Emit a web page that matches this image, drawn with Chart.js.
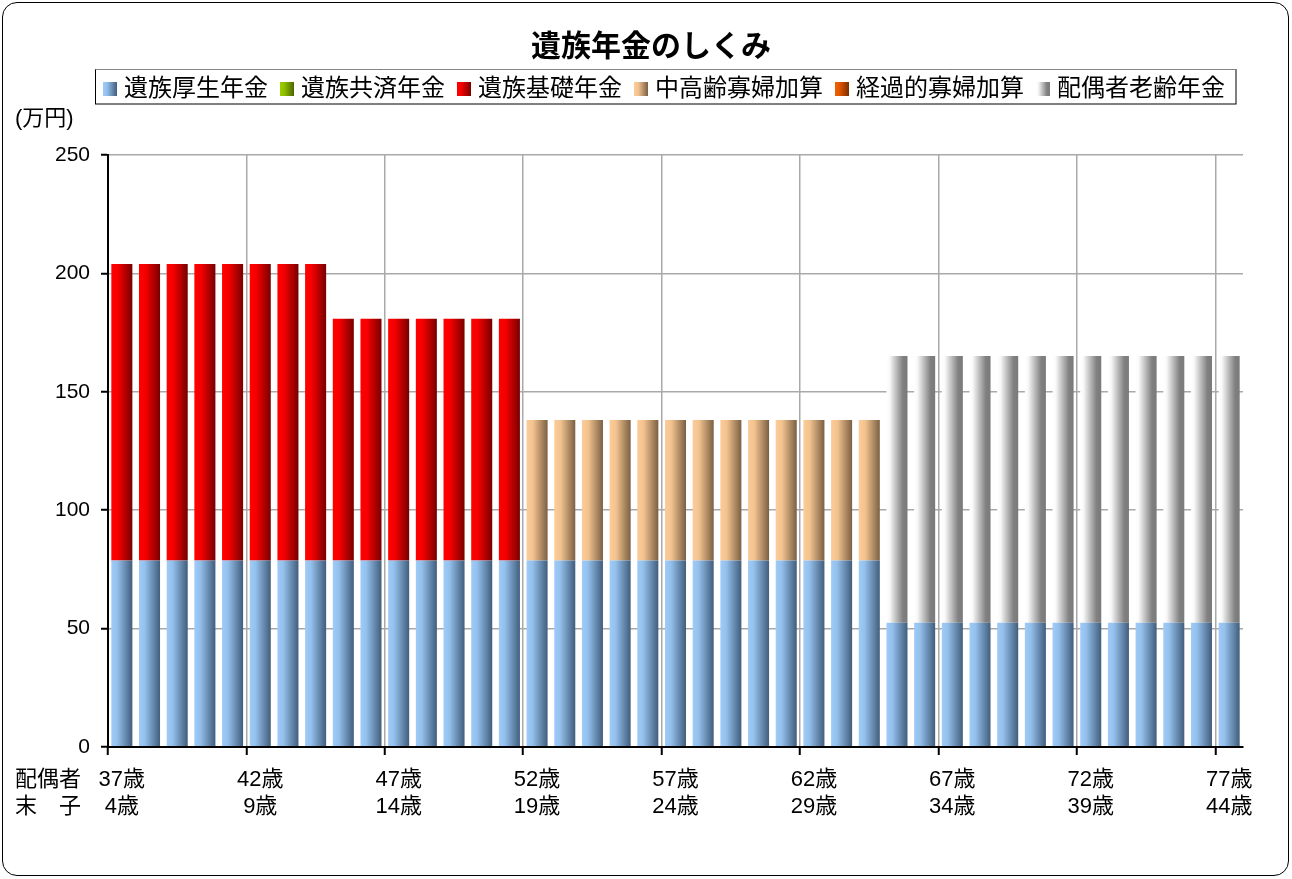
<!DOCTYPE html>
<html>
<head>
<meta charset="utf-8">
<script src="https://cdn.jsdelivr.net/npm/chart.js@4.4.1/dist/chart.umd.min.js"></script>
<style>
  body { margin: 0; background: #fff; }
  #wrap { position: relative; width: 1292px; height: 879px; }
  #frame { position: absolute; left: 2px; top: 2px; width: 1285px; height: 872px;
           border: 1.5px solid #000; border-radius: 15px; }
  #chart { position: absolute; left: 0; top: 0; }
</style>
</head>
<body>
<div id="wrap">
  <div id="frame"></div>
  <canvas id="chart" width="1292" height="879"></canvas>
</div>
<script>
// 配偶者の年齢 / 末子の年齢
const spouseAges = [37, 38, 39, 40, 41, 42, 43, 44, 45, 46, 47, 48, 49, 50, 51, 52, 53, 54, 55, 56, 57,
                    58, 59, 60, 61, 62, 63, 64, 65, 66, 67, 68, 69, 70, 71, 72, 73, 74, 75, 76, 77];
const childAges = [4, 5, 6, 7, 8, 9, 10, 11, 12, 13, 14, 15, 16, 17, 18, 19, 20, 21, 22, 23, 24,
                   25, 26, 27, 28, 29, 30, 31, 32, 33, 34, 35, 36, 37, 38, 39, 40, 41, 42, 43, 44];

// 各年金額 (万円)
const koseiNenkin = [78.8, 78.8, 78.8, 78.8, 78.8, 78.8, 78.8, 78.8, 78.8, 78.8, 78.8, 78.8, 78.8, 78.8,
                     78.8, 78.8, 78.8, 78.8, 78.8, 78.8, 78.8, 78.8, 78.8, 78.8, 78.8, 78.8, 78.8, 78.8,
                     52.5, 52.5, 52.5, 52.5, 52.5, 52.5, 52.5, 52.5, 52.5, 52.5, 52.5, 52.5, 52.5];
const kyosaiNenkin = [0, 0, 0, 0, 0, 0, 0, 0, 0, 0, 0, 0, 0, 0, 0, 0, 0, 0, 0, 0, 0,
                      0, 0, 0, 0, 0, 0, 0, 0, 0, 0, 0, 0, 0, 0, 0, 0, 0, 0, 0, 0];
const kisoNenkin = [125.2, 125.2, 125.2, 125.2, 125.2, 125.2, 125.2, 125.2,
                    102.1, 102.1, 102.1, 102.1, 102.1, 102.1, 102.1,
                    0, 0, 0, 0, 0, 0, 0, 0, 0, 0, 0, 0, 0, 0, 0, 0, 0, 0, 0, 0, 0, 0, 0, 0, 0, 0];
const chukoreiKasan = [0, 0, 0, 0, 0, 0, 0, 0, 0, 0, 0, 0, 0, 0, 0,
                       59.3, 59.3, 59.3, 59.3, 59.3, 59.3, 59.3, 59.3, 59.3, 59.3, 59.3, 59.3, 59.3,
                       0, 0, 0, 0, 0, 0, 0, 0, 0, 0, 0, 0, 0];
const keikaKasan = [0, 0, 0, 0, 0, 0, 0, 0, 0, 0, 0, 0, 0, 0, 0, 0, 0, 0, 0, 0, 0,
                    0, 0, 0, 0, 0, 0, 0, 0, 0, 0, 0, 0, 0, 0, 0, 0, 0, 0, 0, 0];
const haiguNenkin = [0, 0, 0, 0, 0, 0, 0, 0, 0, 0, 0, 0, 0, 0, 0, 0, 0, 0, 0, 0, 0, 0, 0, 0, 0, 0, 0, 0,
                     112.6, 112.6, 112.6, 112.6, 112.6, 112.6, 112.6, 112.6, 112.6, 112.6, 112.6, 112.6, 112.6];

const yTicks = [0, 50, 100, 150, 200, 250];

const latin = "'Liberation Sans', 'Noto Sans CJK JP', sans-serif";
const cjk = "'Noto Sans CJK JP', sans-serif";
const BAR_PCT = 0.76;

// horizontal gradients like the Excel bars
const blueStops = [[0, '#9fcbf8'], [0.28, '#94c0ec'], [1, '#415e7d']];
const greenStops = [[0, '#9acd00'], [0.3, '#8fc000'], [1, '#4a6600']];
const redStops = [[0, '#ff0000'], [0.3, '#f70000'], [1, '#780000']];
const tanStops = [[0, '#fccb99'], [0.3, '#f3c38f'], [1, '#7b6043']];
const orangeStops = [[0, '#f06000'], [0.3, '#e45800'], [1, '#7a2e00']];
const grayStops = [[0, '#ffffff'], [0.15, '#f9f9f9'], [0.78, '#808080'], [1, '#7a7a7a']];

function barFill(stops) {
  return function (c) {
    const chart = c.chart;
    if (!chart.chartArea || c.type !== 'data') return stops[1][1];
    const area = chart.chartArea;
    const w = (area.right - area.left) / spouseAges.length * BAR_PCT;
    const cx = chart.scales.x.getPixelForValue(c.dataIndex);
    const g = chart.ctx.createLinearGradient(cx - w / 2, 0, cx + w / 2, 0);
    stops.forEach(s => g.addColorStop(s[0], s[1]));
    return g;
  };
}

function makeSet(label, data, stops) {
  return {
    label: label,
    data: data,
    stops: stops,
    backgroundColor: barFill(stops),
    borderWidth: 0,
    barPercentage: BAR_PCT,
    categoryPercentage: 1.0
  };
}

// title, legend box and the side captions
const decorations = {
  id: 'decorations',
  afterDraw(chart) {
    const ctx = chart.ctx;
    ctx.save();
    ctx.fillStyle = '#000';

    ctx.font = 'bold 30px ' + cjk;
    ctx.textAlign = 'center';
    ctx.textBaseline = 'middle';
    ctx.fillText('遺族年金のしくみ', 651, 45);

    // legend
    ctx.font = '24px ' + cjk;
    ctx.textAlign = 'left';
    let x = 103;
    chart.data.datasets.forEach(ds => {
      const g = ctx.createLinearGradient(x, 0, x + 14, 0);
      ds.stops.forEach(s => g.addColorStop(s[0], s[1]));
      ctx.fillStyle = g;
      ctx.fillRect(x, 82, 14, 14);
      ctx.fillStyle = '#000';
      ctx.fillText(ds.label, x + 21, 87);
      x += 21 + ctx.measureText(ds.label).width + 12;
    });
    const boxRight = x - 12 + 11;
    ctx.strokeStyle = '#000';
    ctx.lineWidth = 1;
    ctx.strokeRect(95.5, 69.5, boxRight - 95.5, 34.5);
    ctx.strokeStyle = '#888';
    ctx.beginPath();
    ctx.moveTo(95.5, 69.5);
    ctx.lineTo(boxRight, 69.5);
    ctx.stroke();

    ctx.fillStyle = '#000';
    ctx.font = '22px ' + latin;
    ctx.textBaseline = 'middle';
    ctx.fillText('(万円)', 15, 119);
    ctx.fillText('配偶者', 15, 780);
    ctx.fillText('末　子', 15, 807);
    ctx.restore();
  }
};

new Chart(document.getElementById('chart'), {
  type: 'bar',
  data: {
    labels: spouseAges,
    datasets: [
      makeSet('遺族厚生年金', koseiNenkin, blueStops),
      makeSet('遺族共済年金', kyosaiNenkin, greenStops),
      makeSet('遺族基礎年金', kisoNenkin, redStops),
      makeSet('中高齢寡婦加算', chukoreiKasan, tanStops),
      makeSet('経過的寡婦加算', keikaKasan, orangeStops),
      makeSet('配偶者老齢年金', haiguNenkin, grayStops)
    ]
  },
  plugins: [decorations],
  options: {
    responsive: false,
    animation: false,
    events: [],
    layout: { padding: { top: 155, left: 10, right: 49, bottom: 52 } },
    plugins: {
      legend: { display: false },
      title: { display: false },
      tooltip: { enabled: false }
    },
    scales: {
      x: {
        stacked: true,
        offset: true,
        grid: {
          offset: true,
          color: c => (c.index % 5 === 0 ? '#a9a9a9' : 'rgba(0,0,0,0)'),
          tickColor: c => (c.index % 5 === 0 ? '#000' : 'rgba(0,0,0,0)'),
          lineWidth: 1.5,
          tickLength: 8,
          tickWidth: 2
        },
        border: { color: '#000', width: 2, z: 1 },
        ticks: {
          autoSkip: false,
          maxRotation: 0,
          padding: 11.5,
          color: '#000',
          font: { family: latin, size: 22, lineHeight: 1.23 },
          callback: (v, i) => (i % 5 === 0 ? [spouseAges[i] + '歳', childAges[i] + '歳'] : '')
        },
        afterFit: s => { s.height = 80; }
      },
      y: {
        stacked: true,
        min: yTicks[0],
        max: yTicks[yTicks.length - 1],
        grid: {
          color: '#a9a9a9',
          lineWidth: 1.5,
          tickColor: '#000',
          tickLength: 7,
          tickWidth: 2
        },
        border: { color: '#000', width: 2, z: 1 },
        ticks: {
          stepSize: 50,
          padding: 11,
          color: '#000',
          font: { family: latin, size: 21 }
        },
        afterFit: s => { s.width = 98; }
      }
    }
  }
});
</script>
</body>
</html>
